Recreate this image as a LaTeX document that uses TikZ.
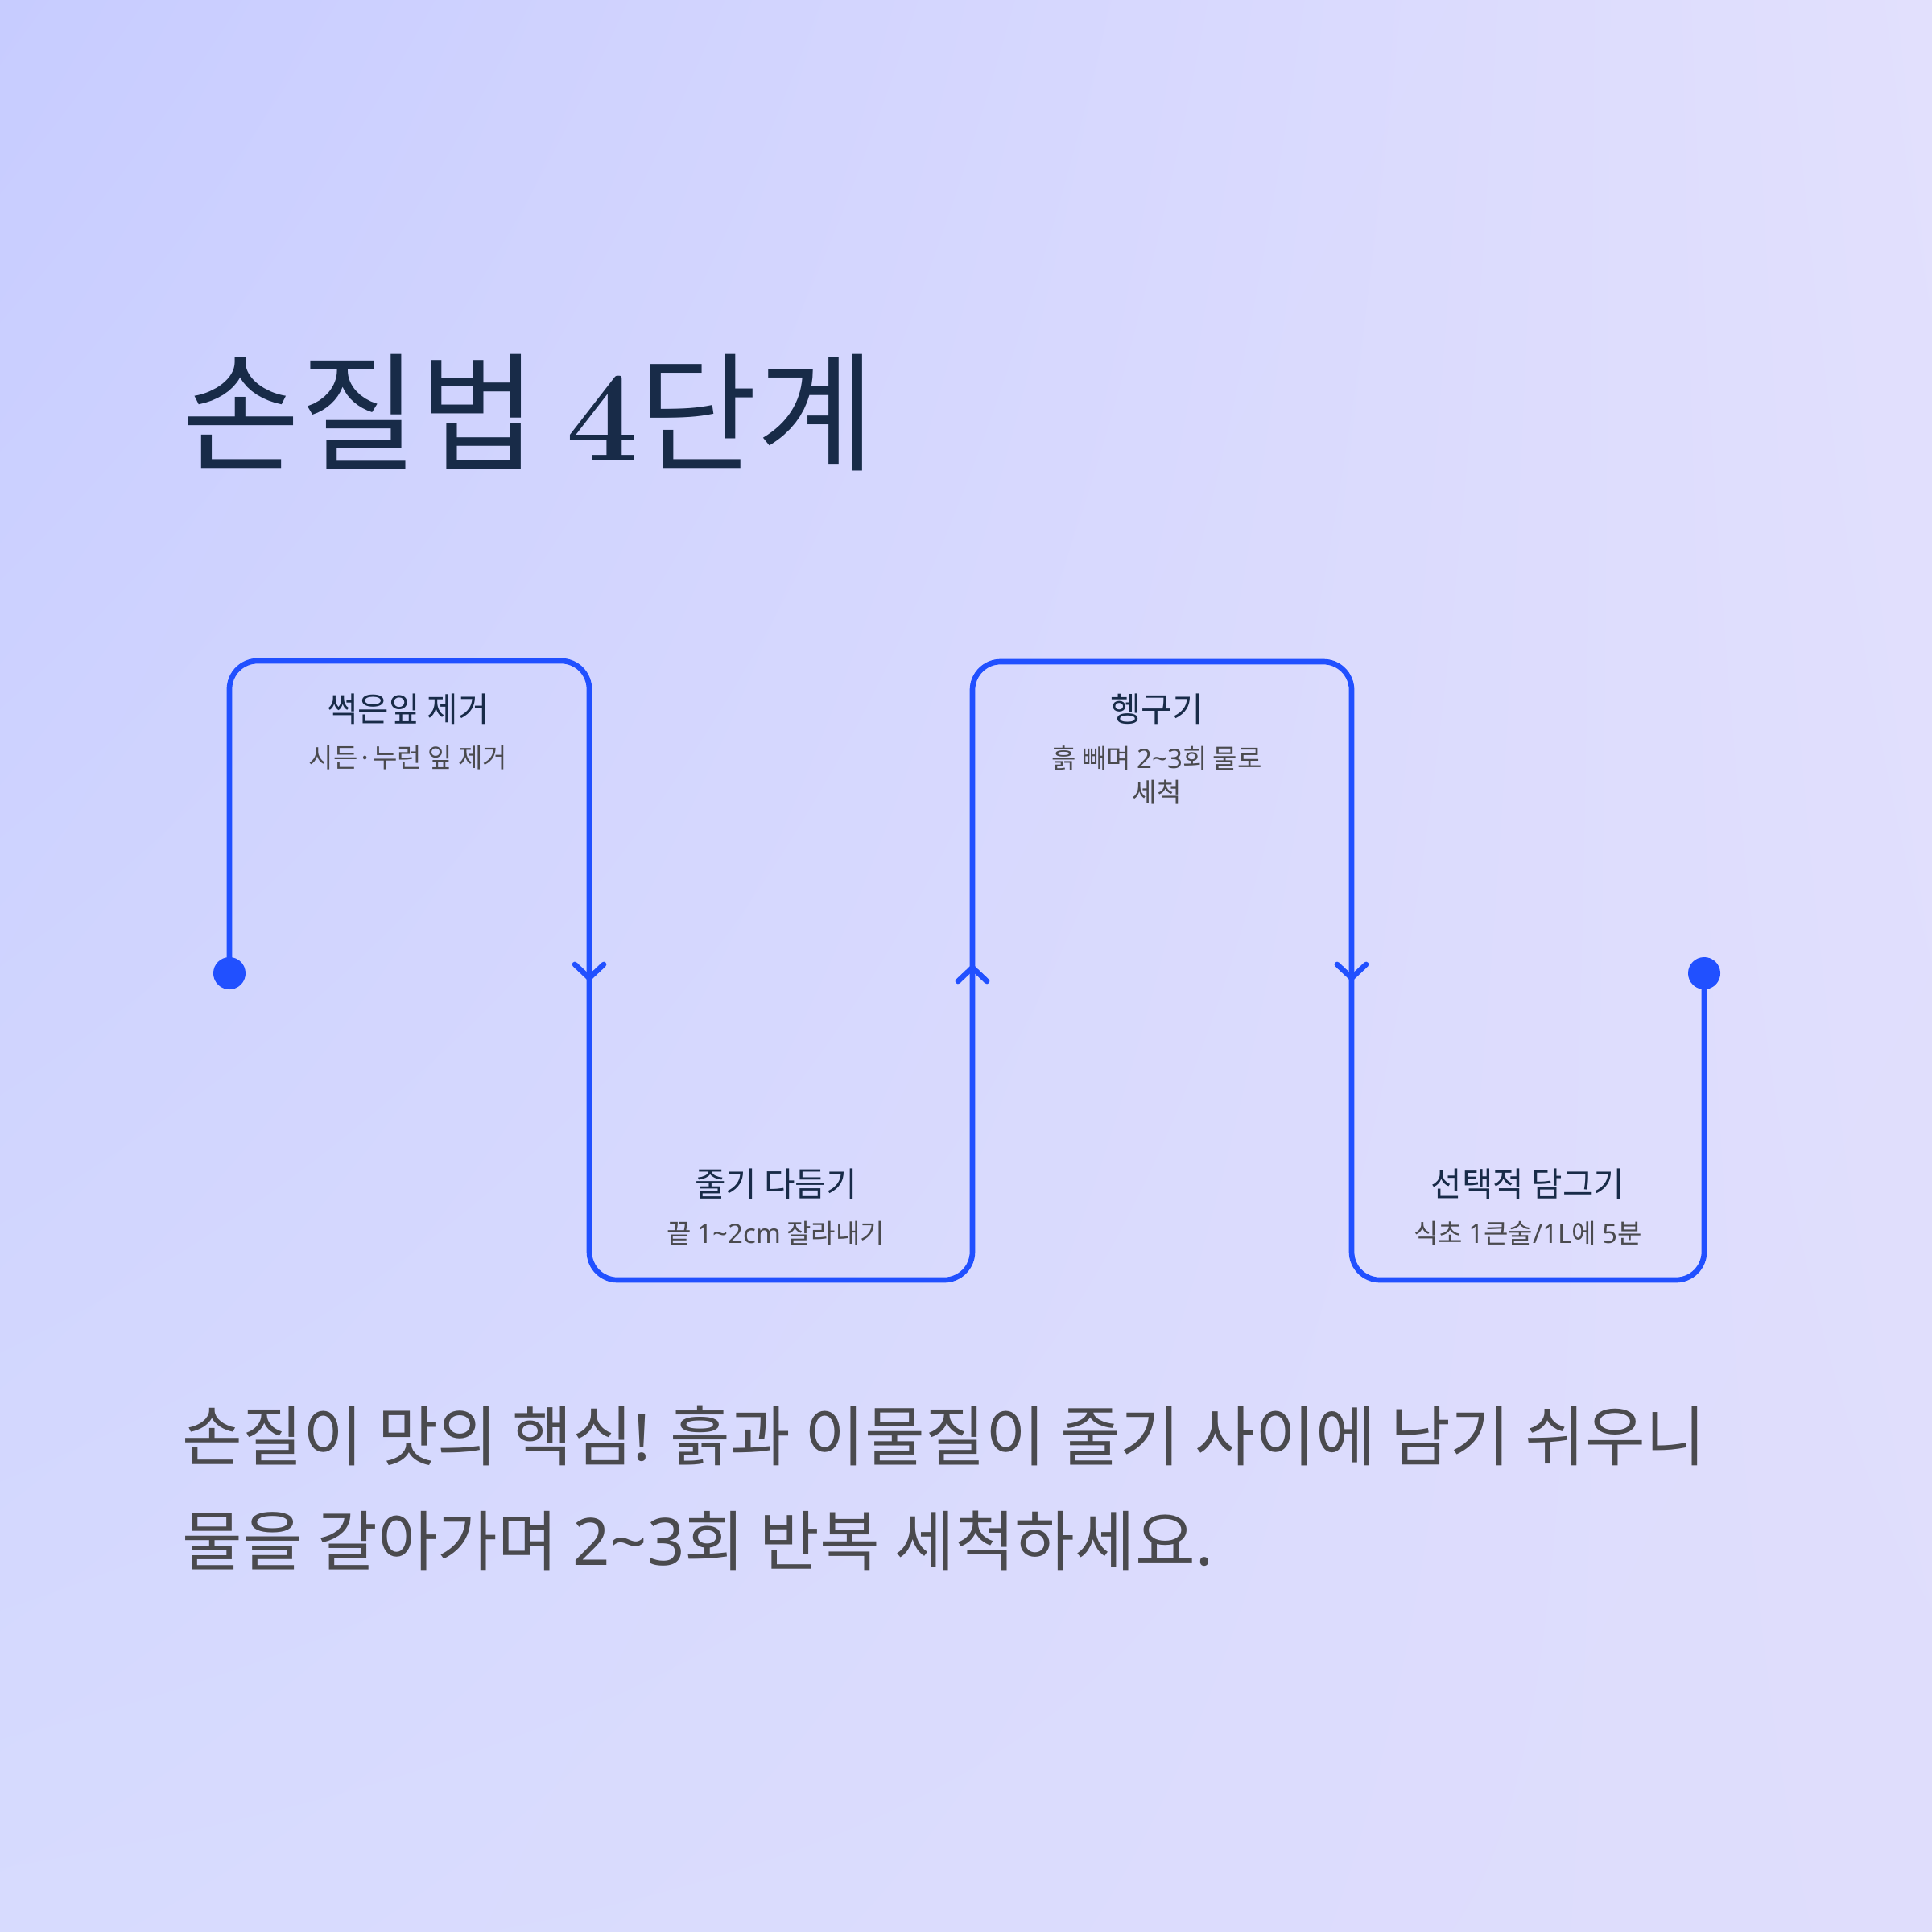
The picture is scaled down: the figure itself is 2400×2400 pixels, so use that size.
\documentclass[tikz,border=0pt]{standalone}
\usepackage{fontspec}
\usetikzlibrary{calc,shadings}
\newfontfamily\kr{Noto Sans CJK KR}
\newfontfamily\lat{Noto Sans}
\definecolor{flow}{RGB}{33,80,255}
\definecolor{navy}{RGB}{24,43,72}
\definecolor{gtext}{RGB}{74,74,78}
\definecolor{bgA}{RGB}{199,204,255}
\definecolor{bgB}{RGB}{226,224,253}
\definecolor{bgC}{RGB}{215,219,254}
\definecolor{bgD}{RGB}{223,221,252}
\begin{document}
\begin{tikzpicture}[x=0.01cm,y=-0.01cm,
  flowline/.style={draw=flow,line width=1.9pt,line cap=round,line join=round},
  dotnode/.style={circle,fill=flow,minimum size=0.4cm,inner sep=0pt},
  stephead/.style={font=\kr\fontsize{11.9pt}{14pt}\selectfont,text=navy,anchor=base,inner sep=0pt},
  stepsub/.style={font=\kr\fontsize{9.4pt}{11pt}\selectfont,text=gtext,anchor=base,inner sep=0pt},
  bodytext/.style={font=\kr\fontsize{23.1pt}{28pt}\selectfont,text=gtext,anchor=base west,inner sep=0pt}]
\shade[upper left=bgA,upper right=bgB,lower left=bgC,lower right=bgD] (0,0) rectangle (2400,2400);
\useasboundingbox (0,0) rectangle (2400,2400);

% title
\node[anchor=base west,inner sep=0pt,text=navy] (title) at (225,572)
  {\kr\fontsize{45.5pt}{54pt}\selectfont 손질법 {\rmfamily\bfseries 4}단계};

% path
\coordinate (s) at (285,1209);
\coordinate (c1) at (285,821);
\coordinate (c2) at (732,821);
\coordinate (c3) at (732,1590);
\coordinate (c4) at (1208,1590);
\coordinate (c5) at (1208,822);
\coordinate (c6) at (1679,822);
\coordinate (c7) at (1679,1590);
\coordinate (c8) at (2117,1590);
\coordinate (e) at (2117,1209);
\draw[flowline,rounded corners=0.35cm] (s) -- (c1) -- (c2) -- (c3) -- (c4) -- (c5) -- (c6) -- (c7) -- (c8) -- (e);
\node[dotnode] (d1) at (s) {};
\node[dotnode] (d2) at (e) {};

% chevrons
\coordinate (a1) at (732,1215);
\coordinate (a2) at (1208,1202);
\coordinate (a3) at (1679,1215);
\draw[flowline] ($(a1)+(-18,-17)$) -- (a1) -- ($(a1)+(18,-17)$);
\draw[flowline] ($(a2)+(-18,17)$) -- (a2) -- ($(a2)+(18,17)$);
\draw[flowline] ($(a3)+(-18,-17)$) -- (a3) -- ($(a3)+(18,-17)$);

% labels
\node[stephead] (h1) at (507,896) {썩은잎 제거};
\node[stepsub] (s1) at (507,953) {시든·누런 잎 제거};
\node[stephead] (h2) at (964,1486) {줄기 다듬기};
\node[stepsub] (s2) at (964,1544) {끝 {\lat 1\char"007E 2cm} 잘라내기};
\node[stephead] (h3) at (1437,896) {헹구기};
\node[stepsub] (s3a) at (1437,954) {흙 빼며 {\lat 2\char"007E 3}회 물로};
\node[stepsub] (s3b) at (1437,996) {세척};
\node[stephead] (h4) at (1898,1486) {선택적 담그기};
\node[stepsub] (s4) at (1898,1544) {식초 {\lat 1}큰술{\lat /1L}에 {\lat 5}분};

% body
\node[bodytext] (b1) at (226,1814) {손질이 맛의 핵심{\lat !} 흙과 이물질이 줄기 사이에 남기 쉬우니};
\node[bodytext] (b2) at (226,1944) {물을 갈아가며 {\lat 2\char"007E 3}회 반복 세척하세요{\lat .}};
\end{tikzpicture}
\end{document}
